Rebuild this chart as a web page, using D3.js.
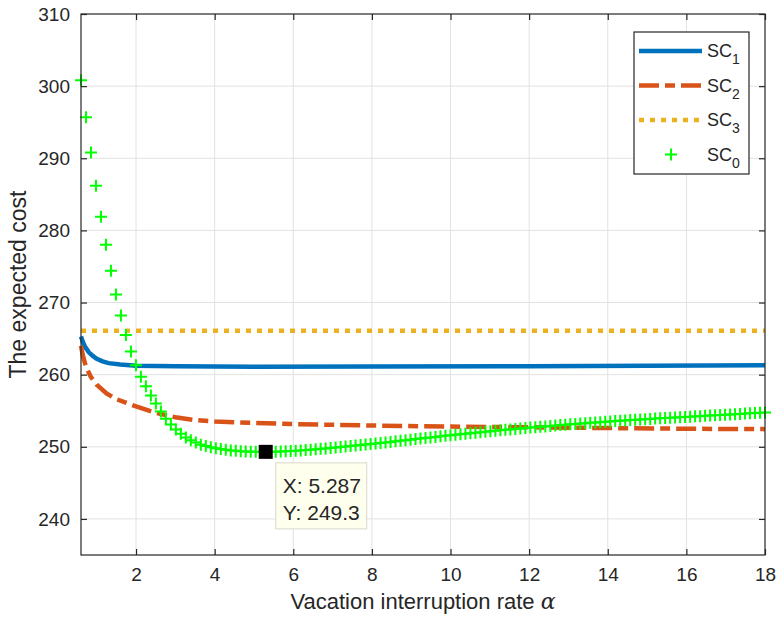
<!DOCTYPE html>
<html>
<head>
<meta charset="utf-8">
<script src="https://d3js.org/d3.v7.min.js"></script>
<style>
  body { margin: 0; background: #fff; }
  text { font-family: "Liberation Sans", Arial, Helvetica, sans-serif; fill: #262626; }
</style>
</head>
<body>
<div id="chart"></div>
<script>
// chart data
// ==============================
var xTicks = [2, 4, 6, 8, 10, 12, 14, 16, 18];
var yTicks = [240, 250, 260, 270, 280, 290, 300, 310];

// SC1 / SC2 / SC3 curves (alpha, cost)
var sc1Alpha = [0.6, 0.65, 0.7, 0.8, 0.9, 1.0, 1.15, 1.3, 1.6, 2, 3, 5, 8, 12, 18];
var sc1Cost  = [265.3, 264.5, 263.9, 263.1, 262.6, 262.2, 261.85, 261.6, 261.4, 261.25, 261.15, 261.1, 261.12, 261.18, 261.3];

var sc2Alpha = [0.6, 0.65, 0.7, 0.75, 0.85, 1.0, 1.25, 1.5, 2, 2.5, 3, 3.5, 4, 5, 6, 8, 10, 12, 14, 16, 18];
var sc2Cost  = [264.0, 262.6, 261.6, 260.8, 259.7, 258.6, 257.4, 256.6, 255.6, 254.7, 254.1, 253.7, 253.5, 253.3, 253.15, 252.95, 252.8, 252.7, 252.6, 252.5, 252.45];

var sc3Alpha = [0.6, 18];
var sc3Cost  = [266.1, 266.1];

// SC0 sampled on an even alpha grid from 0.6 to 18 (138 samples)
var sc0Cost = [
  300.8, 295.7, 290.8, 286.2, 281.9, 278.0, 274.4, 271.1, 268.2, 265.5,
  263.2, 261.3, 259.7, 258.4, 257.1, 256.0, 254.9, 253.9, 253.1, 252.4,
  251.8, 251.3, 250.9, 250.6, 250.3, 250.1, 249.95, 249.8, 249.7, 249.6,
  249.5, 249.45, 249.4, 249.35, 249.32, 249.3, 249.3, 249.3, 249.3, 249.32,
  249.35, 249.38, 249.42, 249.46, 249.5, 249.55, 249.6, 249.66, 249.72, 249.78,
  249.84, 249.9, 249.97, 250.04, 250.11, 250.18, 250.25, 250.32, 250.39, 250.46,
  250.53, 250.61, 250.68, 250.76, 250.84, 250.91, 250.99, 251.07, 251.14, 251.22,
  251.29, 251.37, 251.45, 251.52, 251.6, 251.67, 251.74, 251.81, 251.88, 251.95,
  252.02, 252.09, 252.16, 252.22, 252.28, 252.35, 252.41, 252.47, 252.54, 252.6,
  252.66, 252.72, 252.78, 252.83, 252.89, 252.95, 253.01, 253.06, 253.12, 253.17,
  253.22, 253.27, 253.32, 253.37, 253.42, 253.47, 253.52, 253.57, 253.61, 253.66,
  253.7, 253.74, 253.79, 253.83, 253.87, 253.91, 253.95, 253.99, 254.03, 254.06,
  254.1, 254.14, 254.18, 254.22, 254.25, 254.29, 254.33, 254.37, 254.41, 254.44,
  254.48, 254.52, 254.56, 254.6, 254.64, 254.67, 254.71, 254.75
];
var sc0Alpha = sc0Cost.map(function(d, i) { return 0.6 + i * 17.4 / (sc0Cost.length - 1); });

// data tip
var tipIndex = 37;
var tipLines = ["X: 5.287", "Y: 249.3"];

var legendNames = ["1", "2", "3", "0"];

// set up svg
// ==============================
var svgWidth = 780;
var svgHeight = 625;

var margin = { top: 14, right: 15, bottom: 70, left: 81 };
var width = svgWidth - margin.left - margin.right;
var height = svgHeight - margin.top - margin.bottom;

var svg = d3.select("#chart")
  .append("svg")
  .attr("width", svgWidth)
  .attr("height", svgHeight);

svg.append("rect").attr("width", svgWidth).attr("height", svgHeight).attr("fill", "#fff");

var chartGroup = svg.append("g")
  .attr("transform", `translate(${margin.left}, ${margin.top})`);

// scales
// ==============================
var xScale = d3.scaleLinear().domain([0.6, 18]).range([0, width]);
var yScale = d3.scaleLinear().domain([235, 310]).range([height, 0]);

// grid
// ==============================
chartGroup.append("g")
  .selectAll("line.vgrid")
  .data(xTicks.slice(0, -1))
  .enter().append("line")
  .attr("x1", d => xScale(d)).attr("x2", d => xScale(d))
  .attr("y1", 0).attr("y2", height)
  .attr("stroke", "#e2e2e2").attr("stroke-width", 1);

chartGroup.append("g")
  .selectAll("line.hgrid")
  .data(yTicks.slice(0, -1))
  .enter().append("line")
  .attr("x1", 0).attr("x2", width)
  .attr("y1", d => yScale(d)).attr("y2", d => yScale(d))
  .attr("stroke", "#e2e2e2").attr("stroke-width", 1);

// curves
// ==============================
var line = d3.line()
  .x(d => xScale(d[0]))
  .y(d => yScale(d[1]));

chartGroup.append("path")
  .datum(d3.zip(sc1Alpha, sc1Cost))
  .attr("d", line)
  .attr("fill", "none")
  .attr("stroke", "#0072BD")
  .attr("stroke-width", 4.5);

chartGroup.append("path")
  .datum(d3.zip(sc2Alpha, sc2Cost))
  .attr("d", line)
  .attr("fill", "none")
  .attr("stroke", "#D95319")
  .attr("stroke-width", 4.5)
  .attr("stroke-dasharray", "20,6,10,6");

chartGroup.append("path")
  .datum(d3.zip(sc3Alpha, sc3Cost))
  .attr("d", line)
  .attr("fill", "none")
  .attr("stroke", "#EDB120")
  .attr("stroke-width", 4.5)
  .attr("stroke-dasharray", "5,6");

// SC0 plus markers
var plus = "M-6,0H6M0,-6V6";
chartGroup.append("g")
  .selectAll("path")
  .data(d3.zip(sc0Alpha, sc0Cost))
  .enter().append("path")
  .attr("transform", d => `translate(${xScale(d[0])},${yScale(d[1])})`)
  .attr("d", plus)
  .attr("stroke", "#00FF00")
  .attr("stroke-width", 2)
  .attr("fill", "none");

// axes (box with inward ticks)
// ==============================
var axisColor = "#262626";

chartGroup.append("rect")
  .attr("width", width).attr("height", height)
  .attr("fill", "none").attr("stroke", axisColor).attr("stroke-width", 1.2);

var bottomAxis = d3.axisBottom(xScale).tickValues(xTicks).tickSizeInner(-6).tickSizeOuter(0).tickPadding(13);
var topAxis = d3.axisTop(xScale).tickValues(xTicks).tickSizeInner(-6).tickSizeOuter(0).tickFormat("");
var leftAxis = d3.axisLeft(yScale).tickValues(yTicks).tickSizeInner(-6).tickSizeOuter(0).tickPadding(11);
var rightAxis = d3.axisRight(yScale).tickValues(yTicks).tickSizeInner(-6).tickSizeOuter(0).tickFormat("");

function styleAxis(g) {
  g.select(".domain").remove();
  g.selectAll(".tick line").attr("stroke", axisColor).attr("stroke-width", 1.2);
  g.selectAll(".tick text")
    .attr("fill", axisColor)
    .style("font-size", "19px")
    .style("font-family", "'Liberation Sans', Arial, sans-serif");
}

chartGroup.append("g").attr("transform", `translate(0, ${height})`).call(bottomAxis).call(styleAxis);
chartGroup.append("g").call(topAxis).call(styleAxis);
chartGroup.append("g").call(leftAxis).call(styleAxis);
chartGroup.append("g").attr("transform", `translate(${width}, 0)`).call(rightAxis).call(styleAxis);

// axis labels
// ==============================
chartGroup.append("text")
  .attr("transform", `translate(${width / 2}, ${height + 54})`)
  .attr("text-anchor", "middle")
  .style("font-size", "22px")
  .text("Vacation interruption rate ")
  .append("tspan")
  .style("font-family", "'DejaVu Serif', 'Liberation Serif', serif")
  .style("font-style", "italic")
  .text("α");

chartGroup.append("text")
  .attr("transform", `translate(${-margin.left + 26}, ${height / 2}) rotate(-90)`)
  .attr("text-anchor", "middle")
  .style("font-size", "23px")
  .text("The expected cost");

// data tip
// ==============================
var tx = xScale(sc0Alpha[tipIndex]);
var ty = yScale(sc0Cost[tipIndex]);

chartGroup.append("rect")
  .attr("x", tx - 7).attr("y", ty - 7)
  .attr("width", 14).attr("height", 14)
  .attr("fill", "#000");

var tipGroup = chartGroup.append("g")
  .attr("transform", `translate(${tx + 10}, ${ty + 11})`);

tipGroup.append("rect")
  .attr("width", 91).attr("height", 66)
  .attr("fill", "#ffffee")
  .attr("stroke", "#d8d8cc")
  .attr("stroke-width", 1);

tipGroup.selectAll("text")
  .data(tipLines)
  .enter().append("text")
  .attr("x", 7)
  .attr("y", (d, i) => 30 + i * 27)
  .style("font-size", "21px")
  .attr("fill", "#262626")
  .text(d => d);

// legend
// ==============================
var legend = svg.append("g").attr("transform", "translate(634, 32)");

legend.append("rect")
  .attr("width", 115).attr("height", 142)
  .attr("fill", "#fff")
  .attr("stroke", axisColor)
  .attr("stroke-width", 1.2);

var legendStyles = [
  { color: "#0072BD", dash: null },
  { color: "#D95319", dash: "20,6,10,6" },
  { color: "#EDB120", dash: "5,6" },
  { color: "#00FF00", dash: "marker" }
];

legendNames.forEach(function(name, i) {
  var ly = 19 + i * 34.5;
  var st = legendStyles[i];
  if (st.dash === "marker") {
    legend.append("path")
      .attr("transform", `translate(37, ${ly})`)
      .attr("d", plus)
      .attr("stroke", st.color)
      .attr("stroke-width", 2);
  } else {
    legend.append("line")
      .attr("x1", 5).attr("x2", 68)
      .attr("y1", ly).attr("y2", ly)
      .attr("stroke", st.color)
      .attr("stroke-width", 4.5)
      .attr("stroke-dasharray", st.dash);
  }
  var t = legend.append("text")
    .attr("x", 73)
    .attr("y", ly + 6)
    .style("font-size", "18px")
    .text("SC");
  t.append("tspan")
    .attr("dy", 7)
    .style("font-size", "14px")
    .text(name);
});
</script>
</body>
</html>
